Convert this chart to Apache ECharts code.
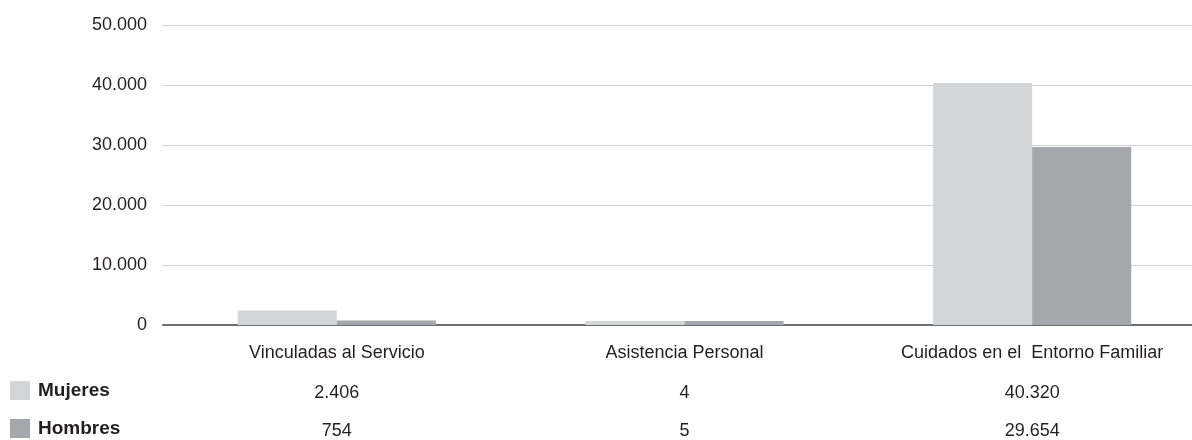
<!DOCTYPE html>
<html>
<head>
<meta charset="utf-8">
<script src="https://cdn.jsdelivr.net/npm/echarts@6/dist/echarts.min.js"></script>
<style>
html,body{margin:0;padding:0;background:#fff;overflow:hidden;width:1192px;height:440px;}
#chart{width:1206px;height:440px;}
</style>
</head>
<body>
<div id="chart"></div>
<script>
var categories = ['Vinculadas al Servicio', 'Asistencia Personal', 'Cuidados en el  Entorno Familiar'];
var seriesNames = ['Mujeres', 'Hombres'];
var mujeres = [2406, 4, 40320];
var hombres = [754, 5, 29654];
var yTicks = [0, 10000, 20000, 30000, 40000, 50000];

var FONT = '"Liberation Sans", Arial, Helvetica, sans-serif';
var TXT = '#231f20';
var FS = 18;
function fmt(v) { return String(v).replace(/\B(?=(\d{3})+(?!\d))/g, '.'); }

var chart = echarts.init(document.getElementById('chart'));
var rowAxis = function (values, offset) {
  return {
    type: 'category', data: values.map(fmt), position: 'bottom', offset: offset,
    axisLine: {show: false}, axisTick: {show: false}, splitLine: {show: false},
    axisLabel: {color: TXT, fontFamily: FONT, fontSize: FS, margin: 0, interval: 0}
  };
};
chart.setOption({
  animation: false,
  textStyle: {fontFamily: FONT},
  legend: {
    orient: 'vertical', left: 10, top: 381, padding: 0, itemWidth: 20, itemHeight: 19, itemGap: 19,
    icon: 'rect', data: seriesNames,
    textStyle: {color: TXT, fontFamily: FONT, fontSize: FS + 1, fontWeight: 'bold', padding: [0, 0, 0, 3]}
  },
  grid: {left: 163, top: 25, right: 0, bottom: 114.5, containLabel: false},
  xAxis: [{
    type: 'category', data: categories,
    axisLine: {lineStyle: {color: '#6d6e70', width: 2}}, axisTick: {show: false},
    axisLabel: {color: TXT, fontFamily: FONT, fontSize: FS, margin: 19, interval: 0}
  }, rowAxis(mujeres, 59), rowAxis(hombres, 97)],
  yAxis: {
    type: 'value', min: yTicks[0], max: yTicks[yTicks.length - 1], interval: 10000,
    axisLine: {show: false}, axisTick: {show: false},
    axisLabel: {color: TXT, fontFamily: FONT, fontSize: FS, margin: 16, formatter: fmt},
    splitLine: {lineStyle: {color: '#cfd0d1', width: 1}}
  },
  series: [{
    name: seriesNames[0], type: 'bar', data: mujeres, barGap: '0%', barCategoryGap: '43%',
    barMinHeight: 4, itemStyle: {color: '#d4d5d7'}
  }, {
    name: seriesNames[1], type: 'bar', data: hombres, barGap: '0%', barCategoryGap: '43%',
    barMinHeight: 4, itemStyle: {color: '#a6a7aa'}
  }]
});
</script>
</body>
</html>
